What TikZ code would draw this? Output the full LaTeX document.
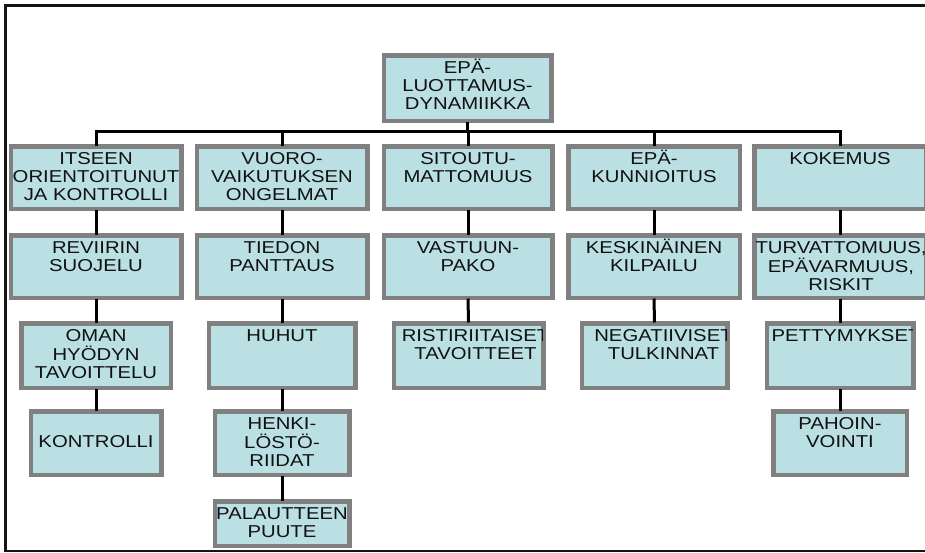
\documentclass[tikz,border=0pt]{standalone}
\usepackage{fontspec}
\setmainfont{Liberation Sans}[FakeStretch=1.18]
\definecolor{boxfill}{RGB}{186,224,228}
\definecolor{boxgray}{RGB}{128,128,128}
\definecolor{inkdark}{RGB}{17,17,17}
\tikzset{
  box/.style={draw=boxgray, fill=boxfill, line width=3pt, inner sep=0pt, anchor=north},
  rim/.style={draw=boxgray, line width=3pt},
  lbl/.style={anchor=base, inner sep=0pt, text=inkdark, font=\fontsize{17.2}{18}\selectfont},
  conn/.style={draw=black, line width=3pt},
  frame/.style={draw=black!92, line width=2.2pt}
}
% centred lines whose baseline is that of the first line
\newcommand\stacklines[1]{\begin{tabular}[t]{@{}c@{}}#1\end{tabular}}
% \orgbox[text x-shift]{name}{centre x}{top y}{width}{height}{text}
% The label is clipped to the inside of the box, then the rim is drawn again on top.
\newcommand\orgbox[7][0]{%
  \node[box, minimum width=#5pt, minimum height=#6pt] (#2) at (#3,#4) {};
  \begin{scope}
    \clip ([shift={(1.5pt,1.5pt)}]#2.south west) rectangle ([shift={(-1.5pt,-1.5pt)}]#2.north east);
    \node[lbl] at ([xshift=#1pt, yshift=-18.5pt]#2.north) {\stacklines{#7}};
  \end{scope}
  \draw[rim] (#2.south west) rectangle (#2.north east);}
\begin{document}
\begin{tikzpicture}[x=1pt, y=-1pt]
\useasboundingbox (0,0) rectangle (925,552);
\fill[white] (0,0) rectangle (925,552);
% page frame, open on the right
\draw[frame] (940,5.5) -- (5.5,5.5) -- (5.5,551) -- (940,551);

% branch point under the root
\coordinate (bus) at (467.5,131.5);

% root
\orgbox{root}{467.5}{54.5}{166}{64}{EPÄ-\\LUOTTAMUS-\\DYNAMIIKKA}

% first level
\orgbox{a1}{96}{145.5}{169}{61}{ITSEEN\\ORIENTOITUNUT\\JA KONTROLLI}
\orgbox{b1}{282}{145.5}{169}{61}{VUORO-\\VAIKUTUKSEN\\ONGELMAT}
\orgbox{c1}{468}{145.5}{167}{61}{SITOUTU-\\MATTOMUUS}
\orgbox{d1}{654}{145.5}{170}{61}{EPÄ-\\KUNNIOITUS}
\orgbox{e1}{840}{145.5}{170}{61}{KOKEMUS}

% second level
\orgbox{a2}{96}{234.5}{169}{61}{REVIIRIN\\SUOJELU}
\orgbox{b2}{282}{234.5}{169}{61}{TIEDON\\PANTTAUS}
\orgbox{c2}{468}{234.5}{167}{61}{VASTUUN-\\PAKO}
\orgbox{d2}{654}{234.5}{170}{61}{KESKINÄINEN\\KILPAILU}
\orgbox[1]{e2}{840}{234.5}{170}{61}{TURVATTOMUUS,\\EPÄVARMUUS,\\RISKIT}

% third level
\orgbox{a3}{96}{322.5}{148}{63}{OMAN\\HYÖDYN\\TAVOITTELU}
\orgbox{b3}{282}{322.5}{145}{63}{HUHUT}
\orgbox[7]{c3}{468.5}{322.5}{148}{63}{RISTIRIITAISET\\TAVOITTEET}
\orgbox[9]{d3}{654.5}{322.5}{144}{63}{NEGATIIVISET\\TULKINNAT}
\orgbox[6]{e3}{840}{322.5}{145}{63}{PETTYMYKSET}

% fourth level
\orgbox{a4}{96}{410.5}{129}{62}{\\KONTROLLI}
\orgbox{b4}{282}{410.5}{133}{62}{HENKI-\\LÖSTÖ-\\RIIDAT}
\orgbox{e4}{840}{410.5}{132}{62}{PAHOIN-\\VOINTI}

% fifth level
\orgbox{b5}{282}{500.5}{133}{43}{PALAUTTEEN\\PUUTE}

% connectors
\draw[conn] (root.south) -- (bus);
\foreach \c in {a1,b1,c1,d1,e1}{\draw[conn] (bus) -| (\c.north);}
\draw[conn] (a1.south) -- (a2.north);
\draw[conn] (a2.south) -- (a3.north);
\draw[conn] (a3.south) -- (a4.north);
\draw[conn] (b1.south) -- (b2.north);
\draw[conn] (b2.south) -- (b3.north);
\draw[conn] (b3.south) -- (b4.north);
\draw[conn] (b4.south) -- (b5.north);
\draw[conn] (c1.south) -- (c2.north);
\draw[conn] (c2.south) -- (c3.north);
\draw[conn] (d1.south) -- (d2.north);
\draw[conn] (d2.south) -- (d3.north);
\draw[conn] (e1.south) -- (e2.north);
\draw[conn] (e2.south) -- (e3.north);
\draw[conn] (e3.south) -- (e4.north);
\end{tikzpicture}
\end{document}
